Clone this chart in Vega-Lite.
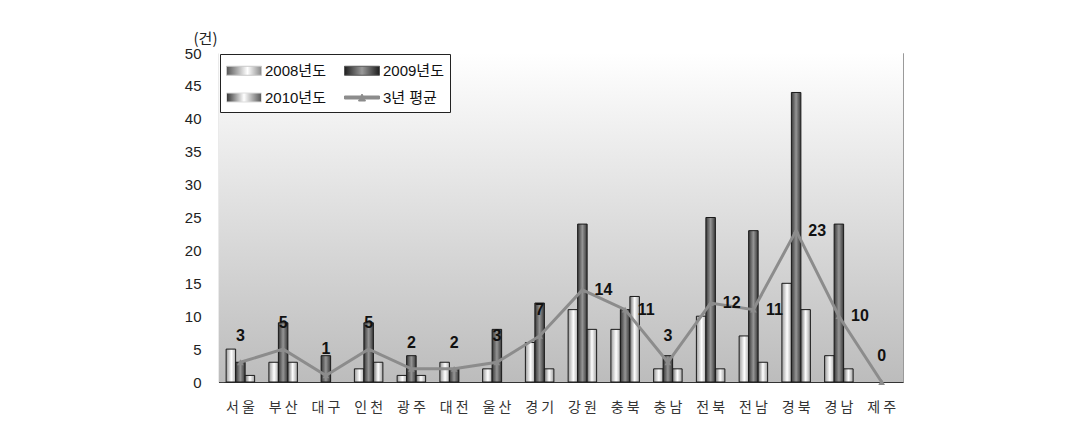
{
  "$schema": "https://vega.github.io/schema/vega-lite/v6.json",
  "width": 684,
  "height": 329,
  "autosize": {"type": "none"},
  "padding": {"left": 219, "top": 53, "right": 184, "bottom": 51},
  "background": "white",
  "config": {
    "font": "Liberation Sans, Noto Sans CJK KR, sans-serif",
    "view": {"stroke": "#9a9a9a", "strokeWidth": 1}
  },
  "layer": [
    {
      "data": {"values": [{}]},
      "mark": {
        "type": "rect",
        "fill": {
          "gradient": "linear", "x1": 0, "y1": 0, "x2": 0, "y2": 1,
          "stops": [{"offset": 0, "color": "#ffffff"}, {"offset": 1, "color": "#bcbcbc"}]
        }
      }
    },
    {
      "data": {
        "values": [
          {"region": "서울", "2008년도": 5, "2009년도": 3, "2010년도": 1, "3년 평균": 3},
          {"region": "부산", "2008년도": 3, "2009년도": 9, "2010년도": 3, "3년 평균": 5},
          {"region": "대구", "2008년도": 0, "2009년도": 4, "2010년도": 0, "3년 평균": 1},
          {"region": "인천", "2008년도": 2, "2009년도": 9, "2010년도": 3, "3년 평균": 5},
          {"region": "광주", "2008년도": 1, "2009년도": 4, "2010년도": 1, "3년 평균": 2},
          {"region": "대전", "2008년도": 3, "2009년도": 2, "2010년도": 0, "3년 평균": 2},
          {"region": "울산", "2008년도": 2, "2009년도": 8, "2010년도": 0, "3년 평균": 3},
          {"region": "경기", "2008년도": 6, "2009년도": 12, "2010년도": 2, "3년 평균": 7},
          {"region": "강원", "2008년도": 11, "2009년도": 24, "2010년도": 8, "3년 평균": 14},
          {"region": "충북", "2008년도": 8, "2009년도": 11, "2010년도": 13, "3년 평균": 11},
          {"region": "충남", "2008년도": 2, "2009년도": 4, "2010년도": 2, "3년 평균": 3},
          {"region": "전북", "2008년도": 10, "2009년도": 25, "2010년도": 2, "3년 평균": 12},
          {"region": "전남", "2008년도": 7, "2009년도": 23, "2010년도": 3, "3년 평균": 11},
          {"region": "경북", "2008년도": 15, "2009년도": 44, "2010년도": 11, "3년 평균": 23},
          {"region": "경남", "2008년도": 4, "2009년도": 24, "2010년도": 2, "3년 평균": 10},
          {"region": "제주", "2008년도": 0, "2009년도": 0, "2010년도": 0, "3년 평균": 0}
        ]
      },
      "transform": [
        {"fold": ["2008년도", "2009년도", "2010년도", "3년 평균"], "as": ["series", "value"]}
      ],
      "encoding": {
        "x": {
          "field": "region", "type": "nominal",
          "sort": ["서울", "부산", "대구", "인천", "광주", "대전", "울산", "경기", "강원", "충북", "충남", "전북", "전남", "경북", "경남", "제주"],
          "scale": {"paddingInner": 0, "paddingOuter": 0},
          "axis": {
            "title": null, "labelAngle": 0,
            "labelExpr": "substring(datum.label, 0, 1) + ' ' + substring(datum.label, 1)",
            "labelFont": "Noto Sans CJK KR", "labelFontSize": 14, "labelColor": "#333333",
            "labelPadding": 23, "bandPosition": 0,
            "tickSize": -5, "tickColor": "#444444", "domainColor": "#333333", "domainWidth": 1.2
          }
        },
        "y": {
          "field": "value", "type": "quantitative",
          "scale": {"domain": [0, 50], "nice": false},
          "axis": {
            "title": "(건)", "titleAngle": 0, "titleX": -14, "titleY": -10,
            "titleAlign": "center", "titleBaseline": "alphabetic",
            "titleFont": "Noto Sans CJK KR", "titleFontWeight": "normal", "titleFontSize": 15, "titleColor": "#222222",
            "values": [0, 5, 10, 15, 20, 25, 30, 35, 40, 45, 50],
            "labelFontSize": 15, "labelColor": "#222222", "labelPadding": 23,
            "tickSize": -5, "tickColor": "#444444", "grid": false,
            "domainColor": "#333333", "domainWidth": 1.2
          }
        }
      },
      "layer": [
        {
          "transform": [{"filter": "datum.series === '2008년도' && datum.value > 0"}],
          "mark": {
            "type": "bar", "stroke": "#1a1a1a", "strokeWidth": 1,
            "fill": {
              "gradient": "linear", "x1": 0, "y1": 0, "x2": 1, "y2": 0,
              "stops": [{"offset": 0, "color": "#9c9c9c"}, {"offset": 0.55, "color": "#ffffff"}, {"offset": 1, "color": "#b0b0b0"}]
            }
          },
          "encoding": {
            "xOffset": {"field": "series", "type": "nominal", "scale": {"domain": ["2008년도", "2009년도", "2010년도"], "paddingOuter": 0.75, "paddingInner": 0}}
          }
        },
        {
          "transform": [{"filter": "datum.series === '2009년도' && datum.value > 0"}],
          "mark": {
            "type": "bar", "stroke": "#1a1a1a", "strokeWidth": 1,
            "fill": {
              "gradient": "linear", "x1": 0, "y1": 0, "x2": 1, "y2": 0,
              "stops": [{"offset": 0, "color": "#383838"}, {"offset": 0.5, "color": "#959595"}, {"offset": 1, "color": "#383838"}]
            }
          },
          "encoding": {
            "xOffset": {"field": "series", "type": "nominal", "scale": {"domain": ["2008년도", "2009년도", "2010년도"], "paddingOuter": 0.75, "paddingInner": 0}}
          }
        },
        {
          "transform": [{"filter": "datum.series === '2010년도' && datum.value > 0"}],
          "mark": {
            "type": "bar", "stroke": "#1a1a1a", "strokeWidth": 1,
            "fill": {
              "gradient": "linear", "x1": 0, "y1": 0, "x2": 1, "y2": 0,
              "stops": [{"offset": 0, "color": "#707070"}, {"offset": 0.5, "color": "#ffffff"}, {"offset": 1, "color": "#a0a0a0"}]
            }
          },
          "encoding": {
            "xOffset": {"field": "series", "type": "nominal", "scale": {"domain": ["2008년도", "2009년도", "2010년도"], "paddingOuter": 0.75, "paddingInner": 0}}
          }
        },
        {
          "transform": [{"filter": "datum.series === '3년 평균'"}],
          "mark": {"type": "line", "strokeWidth": 3},
          "encoding": {
            "color": {
              "field": "series", "type": "nominal",
              "scale": {"domain": ["2008년도", "2009년도", "2010년도", "3년 평균"], "range": ["#c8c8c8", "#555555", "#dddddd", "#8c8c8c"]},
              "legend": {
                "title": null, "orient": "top-left", "offset": 1, "columns": 2, "direction": "horizontal",
                "fillColor": "white", "strokeColor": "#222222", "padding": 6,
                "labelFontSize": 15, "labelColor": "#111111", "labelOffset": 18,
                "symbolSize": 400, "rowPadding": 8, "columnPadding": 16,
                "encode": {
                  "symbols": {
                    "update": {
                      "shape": {"signal": "datum.value === '3년 평균' ? 'M-1,-0.15H2.5V0.15H-1Z M0.4,0.35L0.75,-0.35L1.1,0.35Z' : 'M-1,-0.45H2.5V0.45H-1Z'"},
                      "fill": {"signal": "datum.value === '2009년도' ? {gradient: 'linear', stops: [{offset: 0, color: '#1e1e1e'}, {offset: 0.5, color: '#9a9a9a'}, {offset: 1, color: '#1e1e1e'}]} : datum.value === '2008년도' ? {gradient: 'linear', stops: [{offset: 0, color: '#555555'}, {offset: 0.6, color: '#ffffff'}, {offset: 1, color: '#888888'}]} : datum.value === '2010년도' ? {gradient: 'linear', stops: [{offset: 0, color: '#333333'}, {offset: 0.5, color: '#ffffff'}, {offset: 1, color: '#555555'}]} : '#8c8c8c'"},
                      "stroke": {"signal": "datum.value === '3년 평균' ? 'transparent' : '#222222'"},
                      "strokeWidth": {"value": 1},
                      "size": {"value": 400},
                      "opacity": {"value": 1}
                    }
                  }
                }
              }
            }
          }
        },
        {
          "transform": [{"filter": "datum.series === '3년 평균'"}],
          "mark": {"type": "point", "shape": "triangle-up", "filled": true, "size": 45, "color": "#8c8c8c", "opacity": 1}
        },
        {
          "transform": [
            {"filter": "datum.series === '3년 평균'"},
            {"filter": {"not": {"field": "region", "oneOf": ["강원", "충북", "전북", "전남", "경북", "경남"]}}}
          ],
          "mark": {"type": "text", "dy": -26, "align": "center", "baseline": "middle", "fontSize": 16, "fontWeight": "bold", "color": "#111111"},
          "encoding": {"text": {"field": "value", "type": "quantitative"}}
        },
        {
          "transform": [
            {"filter": "datum.series === '3년 평균'"},
            {"filter": {"field": "region", "oneOf": ["강원", "충북", "전북", "전남", "경북", "경남"]}}
          ],
          "mark": {"type": "text", "dx": 21, "align": "center", "baseline": "middle", "fontSize": 16, "fontWeight": "bold", "color": "#111111"},
          "encoding": {"text": {"field": "value", "type": "quantitative"}}
        }
      ]
    }
  ]
}
